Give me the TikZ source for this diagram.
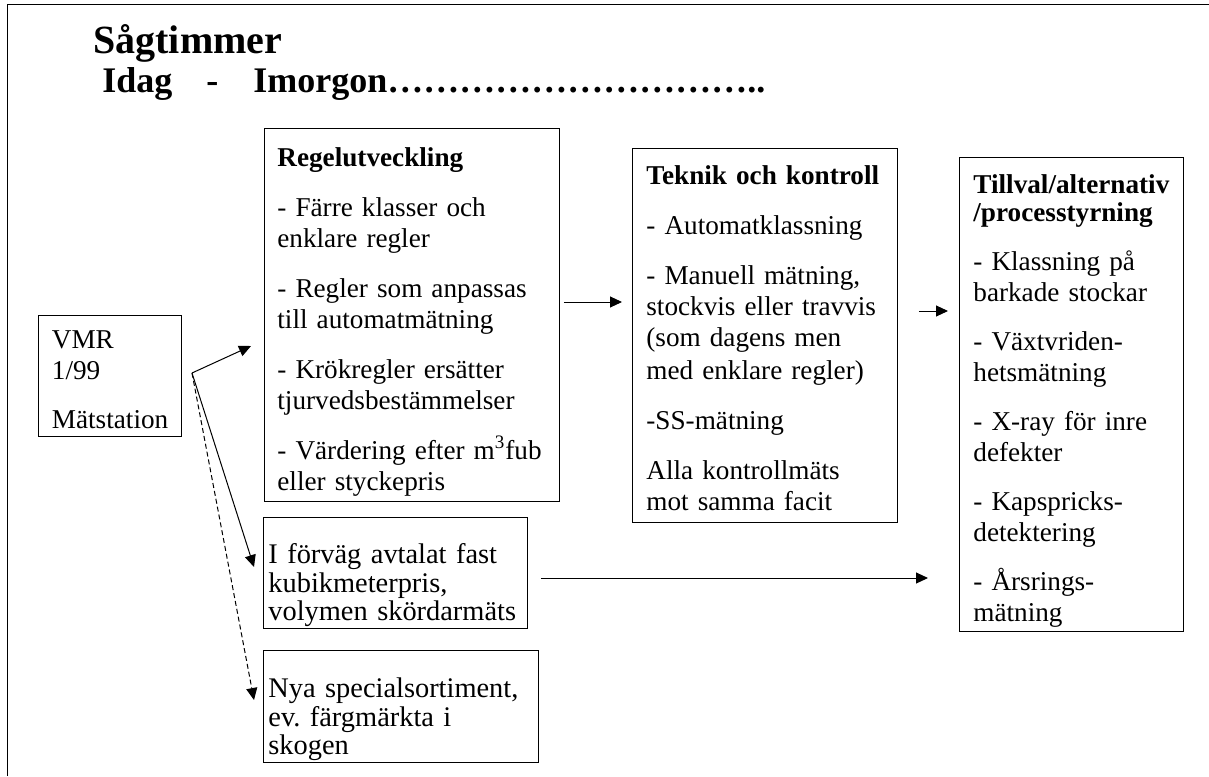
\documentclass[tikz,border=0pt]{standalone}
\usepackage{fontspec}
\setmainfont{Liberation Serif}
\usetikzlibrary{arrows.meta}
\hyphenpenalty=10000
\exhyphenpenalty=10000

\begin{document}
\begin{tikzpicture}[x=0.5pt,y=-0.5pt,
  tbox/.style={draw, anchor=north west, align=left, inner ysep=0pt,
               font=\fontsize{13.6}{15.5}\selectfont},
  lowbox/.style={tbox, inner xsep=2.5pt, font=\fontsize{14.2}{14.3}\selectfont},
  arr/.style={-{Triangle[length=6pt,width=5.5pt]}, line width=0.5pt}]
\useasboundingbox (0,0) rectangle (1209,776);
% frame
\draw[line width=0.7pt] (7.5,776) -- (7.5,4.5) -- (1209,4.5);

\node (title) [anchor=base west, inner sep=0pt, font=\bfseries\fontsize{20}{24}\selectfont] at (93,53) {Sågtimmer};
\node (sub) [anchor=base west, inner sep=0pt, font=\bfseries\fontsize{18}{22}\selectfont] at (102,92) {Idag\hspace{17pt}-\hspace{17.5pt}Imorgon…………………………..};

\node (vmr) [tbox, inner xsep=6.75pt, text width=58pt, text height=16.5pt, text depth=44pt] at (38,315)
  {VMR\\1/99\\[9pt]Mätstation};
\node (regel) [tbox, inner xsep=6.5pt, text width=134.5pt, text height=19pt, text depth=167.5pt] at (264,128)
  {\textbf{Regelutveckling}\\[9.5pt]- Färre klasser och\\enklare regler\\[9.5pt]- Regler som anpassas\\till automatmätning\\[9.5pt]- Krökregler ersätter\\tjurvedsbestämmelser\\[9.5pt]- Värdering efter m\textsuperscript{3}fub\\eller styckepris};
\node (teknik) [tbox, inner xsep=7pt, text width=118.5pt, text height=18pt, text depth=169pt] at (632,148)
  {\textbf{Teknik och kontroll}\\[9.5pt]- Automatklassning\\[9.5pt]- Manuell mätning,\\stockvis eller travvis\\(som dagens men\\[1pt]med enklare regler)\\[9.5pt]-SS-mätning\\[9.5pt]Alla kontrollmäts\\mot samma facit};
\node (tillval) [tbox, inner xsep=7pt, text width=98pt, text height=18pt, text depth=219pt] at (959,157)
  {\textbf{Tillval/alternativ}\\[-1.5pt]\textbf{/processtyrning}\\[9pt]- Klassning på\\barkade stockar\\[9pt]- Växtvriden-\\hetsmätning\\[9pt]- X-ray för inre\\defekter\\[9pt]- Kapspricks-\\detektering\\[9pt]- Årsrings-\\mätning};
\node (forvag) [lowbox, text width=127pt, text height=23pt, text depth=32.5pt] at (263,517)
  {I förväg avtalat fast\\kubikmeterpris,\\volymen~skördarmäts};
\node (nya) [lowbox, text width=132.5pt, text height=23.5pt, text depth=32.5pt] at (263,650)
  {Nya~specialsortiment,\\ev.\ färgmärkta i\\skogen};

\coordinate (fork) at (192,373);
\draw[arr] (fork) -- ([xshift=-6.5pt]regel.west |- 0,346);
\draw[arr] (fork) -- ([xshift=-4.5pt]forvag.west |- 0,567);
\draw[arr, dash pattern=on 2.5pt off 1.5pt] (fork) -- ([xshift=-4.5pt]nya.west |- 0,700);

\draw[arr] ([xshift=2pt]regel.east |- 0,302) -- ([xshift=-5pt]teknik.west |- 0,302);
\draw[arr] ([xshift=10.5pt]teknik.east |- 0,311) -- ([xshift=-5.5pt]tillval.west |- 0,311);
\draw[arr] ([xshift=6.5pt]forvag.east |- 0,578) -- ([xshift=-15.5pt]tillval.west |- 0,578);
\end{tikzpicture}
\end{document}
